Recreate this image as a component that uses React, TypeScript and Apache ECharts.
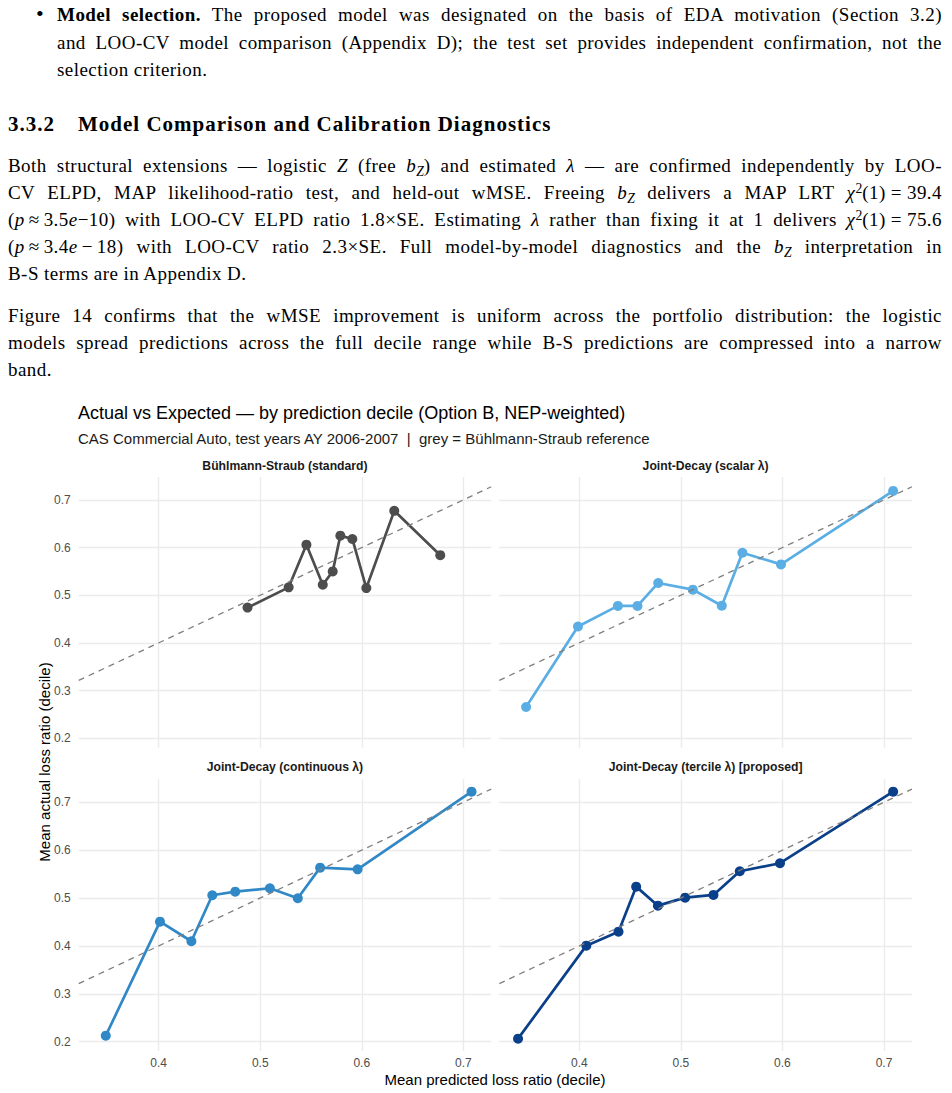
import React, { useEffect, useRef } from "react";
import * as echarts from "echarts";

// ---- Data ----
const bsX = [0.4875, 0.528, 0.5455, 0.5616, 0.5714, 0.5789, 0.5907, 0.6045, 0.632, 0.6773];
const bsY = [0.474, 0.5165, 0.606, 0.522, 0.55, 0.625, 0.618, 0.515, 0.677, 0.584];
const scalarX = [0.3476, 0.3987, 0.438, 0.4573, 0.4777, 0.5118, 0.5403, 0.5606, 0.5986, 0.709];
const scalarY = [0.2655, 0.4343, 0.4776, 0.4776, 0.5257, 0.5117, 0.478, 0.589, 0.5646, 0.7188];
const contX = [0.3479, 0.4013, 0.4322, 0.4528, 0.4754, 0.5095, 0.537, 0.559, 0.5959, 0.7081];
const contY = [0.2126, 0.4507, 0.4097, 0.5058, 0.5133, 0.5204, 0.4996, 0.5635, 0.56, 0.7222];
const tercX = [0.3397, 0.4069, 0.4386, 0.456, 0.4774, 0.5042, 0.5321, 0.558, 0.5976, 0.709];
const tercY = [0.2063, 0.4005, 0.4298, 0.5238, 0.4841, 0.5008, 0.5065, 0.556, 0.5727, 0.7222];

const panelTitles = [
  "Bühlmann-Straub (standard)",
  "Joint-Decay (scalar λ)",
  "Joint-Decay (continuous λ)",
  "Joint-Decay (tercile λ) [proposed]",
];
const panelColors = ["#4D4D4D", "#5BAEE3", "#3188C6", "#0A3F8A"];
const titleText = "Actual vs Expected — by prediction decile (Option B, NEP-weighted)";
const subtitleText = "CAS Commercial Auto, test years AY 2006-2007\u00a0\u00a0|\u00a0\u00a0grey = Bühlmann-Straub reference";
const xAxisTitle = "Mean predicted loss ratio (decile)";
const yAxisTitle = "Mean actual loss ratio (decile)";

const panelsX = [bsX, scalarX, contX, tercX];
const panelsY = [bsY, scalarY, contY, tercY];

// ggplot-like 5% expansion of the shared data range
function expand(arrs: number[][]) {
  const all = arrs.flat();
  const lo = Math.min(...all);
  const hi = Math.max(...all);
  const pad = (hi - lo) * 0.05;
  return [lo - pad, hi + pad];
}
const [XMIN, XMAX] = expand(panelsX);
const [YMIN, YMAX] = expand(panelsY);

const grids = [
  { left: 78.7, top: 477, width: 412.5, height: 270.5 },
  { left: 499.3, top: 477, width: 412.6, height: 270.5 },
  { left: 78.7, top: 779.3, width: 412.5, height: 271.7 },
  { left: 499.3, top: 779.3, width: 412.6, height: 271.7 },
];

const SANS = '"Liberation Sans", Arial, Helvetica, sans-serif';
const SERIF = '"Liberation Serif", "Times New Roman", serif';

function buildOption() {
  const xAxis: any[] = [];
  const yAxis: any[] = [];
  const series: any[] = [];
  const graphic: any[] = [];
  grids.forEach((g, i) => {
    const bottomRow = i >= 2;
    const leftCol = i % 2 === 0;
    xAxis.push({
      type: "value",
      gridIndex: i,
      min: XMIN,
      max: XMAX,
      minInterval: 0.1,
      maxInterval: 0.1,
      axisLine: { show: false },
      axisTick: { show: false },
      axisLabel: {
        show: bottomRow,
        showMinLabel: false,
        showMaxLabel: false,
        color: "#4D4D4D",
        fontSize: 12,
        fontFamily: SANS,
        margin: 6,
        formatter: (v: number) => v.toFixed(1),
      },
      splitLine: { show: true, showMinLine: false, showMaxLine: false, lineStyle: { color: "#EBEBEB", width: 1.4 } },
    });
    yAxis.push({
      type: "value",
      gridIndex: i,
      min: YMIN,
      max: YMAX,
      minInterval: 0.1,
      maxInterval: 0.1,
      axisLine: { show: false },
      axisTick: { show: false },
      axisLabel: {
        show: leftCol,
        showMinLabel: false,
        showMaxLabel: false,
        color: "#4D4D4D",
        fontSize: 12,
        fontFamily: SANS,
        margin: 8,
        formatter: (v: number) => v.toFixed(1),
      },
      splitLine: { show: true, showMinLine: false, showMaxLine: false, lineStyle: { color: "#EBEBEB", width: 1.4 } },
    });
    series.push({
      type: "line",
      xAxisIndex: i,
      yAxisIndex: i,
      data: panelsX[i].map((x, k) => [x, panelsY[i][k]]),
      symbol: "circle",
      symbolSize: 10,
      showSymbol: true,
      lineStyle: { color: panelColors[i], width: 2.7 },
      itemStyle: { color: panelColors[i] },
      z: 3,
    });
    series.push({
      type: "line",
      xAxisIndex: i,
      yAxisIndex: i,
      data: [
        [XMIN, XMIN],
        [XMAX, XMAX],
      ],
      symbol: "none",
      lineStyle: { color: "#7F7F7F", width: 1.3, type: [6, 5] },
      z: 4,
    });
    graphic.push({
      type: "text",
      x: g.left + g.width / 2,
      y: i < 2 ? 466 : 767,
      style: {
        text: panelTitles[i],
        fill: "#1A1A1A",
        font: `bold 12.2px ${SANS}`,
        align: "center",
        verticalAlign: "middle",
      },
    });
  });
  graphic.push(
    {
      type: "text",
      x: 78,
      y: 413,
      style: { text: titleText, fill: "#000", font: `18px ${SANS}`, align: "left", verticalAlign: "middle" },
    },
    {
      type: "text",
      x: 78,
      y: 438,
      style: { text: subtitleText, fill: "#1A1A1A", font: `15px ${SANS}`, align: "left", verticalAlign: "middle" },
    },
    {
      type: "text",
      x: 495,
      y: 1079,
      style: { text: xAxisTitle, fill: "#000", font: `15px ${SANS}`, align: "center", verticalAlign: "middle" },
    },
    {
      type: "text",
      x: 44,
      y: 762,
      rotation: Math.PI / 2,
      style: { text: yAxisTitle, fill: "#000", font: `15px ${SANS}`, align: "center", verticalAlign: "middle" },
    }
  );
  return {
    animation: false,
    backgroundColor: "#FFFFFF",
    grid: grids.map((g) => ({ ...g, containLabel: false })),
    xAxis,
    yAxis,
    series,
    graphic,
  };
}

const Sub = ({ children }: any) => (
  <span style={{ fontSize: "0.72em", position: "relative", top: "0.3em", fontStyle: "italic", letterSpacing: 0 }}>
    {children}
  </span>
);
const Sup = ({ children }: any) => (
  <span style={{ fontSize: "0.72em", position: "relative", top: "-0.45em", letterSpacing: 0 }}>{children}</span>
);
const Op = ({ children, m = 5 }: any) => <span style={{ margin: `0 ${m}px` }}>{children}</span>;

function Line({ base, left = 8, right = 942, justify = true, bold = false, size = 19, ls = 0.45, children }: any) {
  return (
    <div
      style={{
        position: "absolute",
        top: base - (13.5 + 0.3375 * size),
        left,
        width: right - left,
        height: 27,
        lineHeight: "27px",
        fontSize: size,
        letterSpacing: ls,
        fontFamily: SERIF,
        fontWeight: bold ? "bold" : "normal",
        color: "#000",
        textAlign: justify ? "justify" : "left",
        textAlignLast: justify ? "justify" : "auto",
        whiteSpace: "normal",
        overflow: "visible",
      }}
    >
      {children}
    </div>
  );
}

export default function App() {
  const ref = useRef<HTMLDivElement>(null);
  useEffect(() => {
    if (!ref.current) return;
    const chart = echarts.init(ref.current, undefined, { renderer: "svg" });
    chart.setOption(buildOption());
    return () => chart.dispose();
  }, []);
  return (
    <div style={{ position: "absolute", left: 0, top: 0, width: 952, height: 1093, background: "#fff", overflow: "hidden" }}>
      <div ref={ref} style={{ position: "absolute", left: 0, top: 0, width: 952, height: 1093 }} />
      <div style={{ position: "absolute", left: 0, top: 0, width: 952, height: 390, pointerEvents: "none" }}>
        <div style={{ position: "absolute", top: 0, left: 36, fontSize: 22, fontFamily: SERIF, lineHeight: "27px" }}>•</div>
        <Line base={21} left={57}>
          <b>Model selection.</b> The proposed model was designated on the basis of EDA motivation (Section 3.2)
        </Line>
        <Line base={48.5} left={57}>
          and LOO-CV model comparison (Appendix D); the test set provides independent confirmation, not the
        </Line>
        <Line base={76} left={57} justify={false}>
          selection criterion.
        </Line>
        <Line base={132} left={8} justify={false} bold size={21} ls={1}>
          3.3.2
        </Line>
        <Line base={132} left={78} justify={false} bold size={21} ls={1}>
          Model Comparison and Calibration Diagnostics
        </Line>
        <Line base={172}>
          Both structural extensions — logistic <i>Z</i> (free <i>b</i>
          <Sub>Z</Sub>) and estimated <i>λ</i> — are confirmed independently by LOO-
        </Line>
        <Line base={199}>
          CV ELPD, MAP likelihood-ratio test, and held-out wMSE. Freeing <i>b</i>
          <Sub>Z</Sub> delivers a MAP LRT <i>χ</i>
          <Sup>2</Sup>(1)<Op>=</Op>39.4
        </Line>
        <Line base={226}>
          (<i>p</i>
          <Op m={4}>≈</Op>3.5<i>e</i>−10) with LOO-CV ELPD ratio 1.8×SE. Estimating <i>λ</i> rather than fixing it at 1 delivers{" "}
          <i>χ</i>
          <Sup>2</Sup>(1)<Op>=</Op>75.6
        </Line>
        <Line base={253}>
          (<i>p</i>
          <Op m={4}>≈</Op>3.4<i>e</i>
          <Op m={4}>−</Op>18) with LOO-CV ratio 2.3×SE. Full model-by-model diagnostics and the <i>b</i>
          <Sub>Z</Sub> interpretation in
        </Line>
        <Line base={280} justify={false}>
          B-S terms are in Appendix D.
        </Line>
        <Line base={322}>
          Figure 14 confirms that the wMSE improvement is uniform across the portfolio distribution: the logistic
        </Line>
        <Line base={349}>
          models spread predictions across the full decile range while B-S predictions are compressed into a narrow
        </Line>
        <Line base={376} justify={false}>
          band.
        </Line>
      </div>
    </div>
  );
}
